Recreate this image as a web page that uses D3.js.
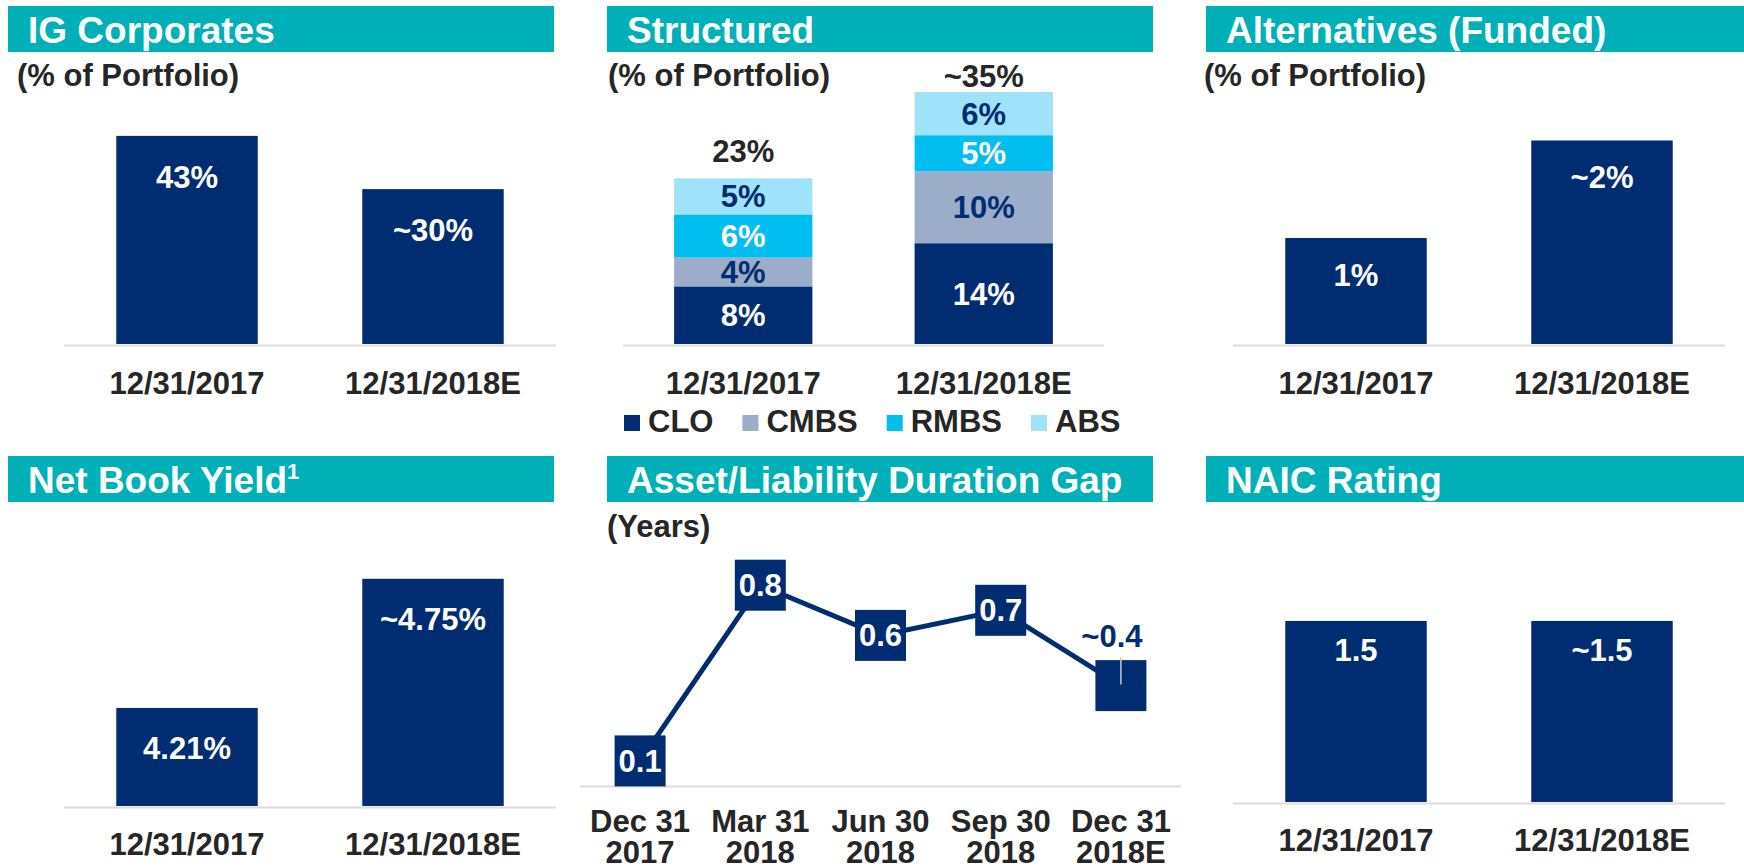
<!DOCTYPE html>
<html>
<head>
<meta charset="utf-8">
<script src="https://cdn.jsdelivr.net/npm/d3@7"></script>
<style>
  body { margin: 0; background: #fff; }
  text { font-family: Arial, "Liberation Sans", sans-serif; font-weight: bold; }
  .title { fill: #fff; font-size: 37px; }
  .sub { fill: #262626; font-size: 31px; }
  .xlab { fill: #262626; font-size: 31px; text-anchor: middle; }
  .val { font-size: 31px; text-anchor: middle; }
</style>
</head>
<body>
<script>
// data
var dates = ["12/31/2017", "12/31/2018E"];

var igCorpValues = [43, 32];
var igCorpLabels = ["43%", "~30%"];

var structSeries = ["CLO", "CMBS", "RMBS", "ABS"];
var clo = [8, 14];
var cmbs = [4, 10];
var rmbs = [6, 5];
var abs = [5, 6];
var structTotals = ["23%", "~35%"];

var altValues = [1, 1.92];
var altLabels = ["1%", "~2%"];

var yieldValues = [4.21, 4.75];
var yieldLabels = ["4.21%", "~4.75%"];

var gapDates = [["Dec 31", "2017"], ["Mar 31", "2018"], ["Jun 30", "2018"], ["Sep 30", "2018"], ["Dec 31", "2018E"]];
var gapValues = [0.1, 0.8, 0.6, 0.7, 0.4];
var gapLabels = ["0.1", "0.8", "0.6", "0.7", "~0.4"];

var naicValues = [1.5, 1.5];
var naicLabels = ["1.5", "~1.5"];

var TEAL = "#00B0B9", NAVY = "#002D72", GRID = "#DCDCDC";
var structColors = ["#002D72", "#9BADC8", "#00BEF0", "#9EE3FA"];
var structText = ["#fff", "#002D72", "#fff", "#002D72"];

var svg = d3.select("body").append("svg").attr("width", 1744).attr("height", 868);

function header(x0, x1, y0, title, sup) {
  svg.append("rect").attr("x", x0).attr("y", y0).attr("width", x1 - x0).attr("height", 46).attr("fill", TEAL);
  var t = svg.append("text").attr("class", "title").attr("x", x0 + 20).attr("y", y0 + 37).text(title);
  if (sup) t.append("tspan").attr("font-size", 22).attr("dy", -14).text(sup);
}

function subtitle(x, y, s) {
  svg.append("text").attr("class", "sub").attr("x", x).attr("y", y).text(s);
}

function bandScale(cats, x0, x1) {
  return d3.scaleBand().domain(cats).range([x0, x1]).paddingInner(0.425).paddingOuter(0.2125);
}

function baseline(x0, x1, y) {
  svg.append("line").attr("x1", x0).attr("x2", x1).attr("y1", y + 1.5).attr("y2", y + 1.5)
    .attr("stroke", GRID).attr("stroke-width", 2);
}

function barPanel(o) {
  var x = bandScale(dates, o.x0, o.x1);
  var y = d3.scaleLinear().domain(o.domain).range([o.base, o.base - o.h]);
  var g = svg.append("g");
  g.selectAll("rect").data(o.values).enter().append("rect")
    .attr("x", function(d, i) { return x(dates[i]); })
    .attr("y", function(d) { return y(d); })
    .attr("width", x.bandwidth())
    .attr("height", function(d) { return o.base - y(d); })
    .attr("fill", NAVY);
  g.selectAll("text.val").data(o.values).enter().append("text").attr("class", "val")
    .attr("x", function(d, i) { return x(dates[i]) + x.bandwidth() / 2; })
    .attr("y", function(d) { return y(d) + o.labOff; })
    .attr("fill", "#fff")
    .text(function(d, i) { return o.labels[i]; });
  baseline(o.x0, o.x1, o.base);
  g.selectAll("text.xlab").data(dates).enter().append("text").attr("class", "xlab")
    .attr("x", function(d) { return x(d) + x.bandwidth() / 2; })
    .attr("y", o.xLabY).text(function(d) { return d; });
}

// IG Corporates
header(8, 554, 6, "IG Corporates");
subtitle(17, 86, "(% of Portfolio)");
barPanel({ x0: 64, x1: 556, base: 344, domain: [0, 50], h: 242, values: igCorpValues, labels: igCorpLabels, labOff: 52, xLabY: 394 });

// Structured (stacked)
header(607, 1153, 6, "Structured");
subtitle(608, 86, "(% of Portfolio)");
(function() {
  var rows = dates.map(function(d, i) {
    return { date: d, CLO: clo[i], CMBS: cmbs[i], RMBS: rmbs[i], ABS: abs[i] };
  });
  var stack = d3.stack().keys(structSeries)(rows);
  var x = bandScale(dates, 623, 1104);
  var y = d3.scaleLinear().domain([0, 40]).range([344, 344 - 288]);
  var layers = svg.selectAll("g.layer").data(stack).enter().append("g").attr("class", "layer");
  layers.selectAll("rect").data(function(s) { return s; }).enter().append("rect")
    .attr("x", function(d) { return x(d.data.date); })
    .attr("y", function(d) { return y(d[1]); })
    .attr("width", x.bandwidth())
    .attr("height", function(d) { return y(d[0]) - y(d[1]); })
    .attr("fill", function() { return structColors[d3.select(this.parentNode).datum().index]; });
  layers.selectAll("text").data(function(s) { return s.map(function(d) { return { d: d, k: s.index }; }); })
    .enter().append("text").attr("class", "val")
    .attr("x", function(e) { return x(e.d.data.date) + x.bandwidth() / 2; })
    .attr("y", function(e) { return (y(e.d[0]) + y(e.d[1])) / 2 + 11; })
    .attr("fill", function(e) { return structText[e.k]; })
    .text(function(e) { return (e.d[1] - e.d[0]) + "%"; });
  var top = stack[stack.length - 1];
  svg.selectAll("text.tot").data(top).enter().append("text").attr("class", "val tot")
    .attr("x", function(d) { return x(d.data.date) + x.bandwidth() / 2; })
    .attr("y", function(d, i) { return y(d[1]) - (i === 0 ? 16 : 5); })
    .attr("fill", "#262626")
    .text(function(d, i) { return structTotals[i]; });
  baseline(623, 1104, 344);
  svg.selectAll("text.sx").data(dates).enter().append("text").attr("class", "xlab sx")
    .attr("x", function(d) { return x(d) + x.bandwidth() / 2; })
    .attr("y", 394).text(function(d) { return d; });
  // legend
  var lx = 624;
  structSeries.forEach(function(s, i) {
    svg.append("rect").attr("x", lx).attr("y", 415).attr("width", 16).attr("height", 16).attr("fill", structColors[i]);
    var t = svg.append("text").attr("class", "sub").attr("x", lx + 24).attr("y", 432).text(s);
    lx += 24 + t.node().getComputedTextLength() + 29;
  });
})();

// Alternatives
header(1206, 1744, 6, "Alternatives (Funded)");
subtitle(1204, 86, "(% of Portfolio)");
barPanel({ x0: 1233, x1: 1725, base: 344, domain: [0, 2.5], h: 265, values: altValues, labels: altLabels, labOff: 48, xLabY: 394 });

// Net Book Yield
header(8, 554, 456, "Net Book Yield", "1");
barPanel({ x0: 64, x1: 556, base: 806, domain: [3.8, 5], h: 287, values: yieldValues, labels: yieldLabels, labOff: 51, xLabY: 855 });

// Asset/Liability Duration Gap
header(607, 1153, 456, "Asset/Liability Duration Gap");
subtitle(607, 537, "(Years)");
(function() {
  var x = d3.scalePoint().domain(d3.range(gapValues.length)).range([580, 1181]).padding(0.5);
  var y = d3.scaleLinear().domain([0, 1]).range([786, 786 - 251]);
  baseline(580, 1181, 785);
  var line = d3.line().x(function(d, i) { return x(i); }).y(function(d) { return y(d); });
  svg.append("path").datum(gapValues).attr("d", line).attr("fill", "none")
    .attr("stroke", NAVY).attr("stroke-width", 5);
  var s = 51;
  svg.selectAll("rect.box").data(gapValues).enter().append("rect").attr("class", "box")
    .attr("x", function(d, i) { return x(i) - s / 2; })
    .attr("y", function(d) { return y(d) - s / 2; })
    .attr("width", s).attr("height", s).attr("fill", NAVY);
  var last = gapValues.length - 1;
  svg.selectAll("text.gv").data(gapValues).enter().append("text").attr("class", "val gv")
    .attr("x", function(d, i) { return i === last ? x(i) - 9 : x(i); })
    .attr("y", function(d, i) { return i === last ? y(d) - 39 : y(d) + 11; })
    .attr("fill", function(d, i) { return i === last ? NAVY : "#fff"; })
    .text(function(d, i) { return gapLabels[i]; });
  svg.append("line").attr("x1", x(last)).attr("x2", x(last))
    .attr("y1", y(gapValues[last]) - 28).attr("y2", y(gapValues[last]) - 1)
    .attr("stroke", "#C8C8C8").attr("stroke-width", 1.5);
  var xl = svg.selectAll("text.gx").data(gapDates).enter().append("text").attr("class", "xlab gx")
    .attr("x", function(d, i) { return x(i); }).attr("y", 832);
  xl.append("tspan").text(function(d) { return d[0]; });
  xl.append("tspan").attr("x", function(d, i) { return x(i); }).attr("dy", 31).text(function(d) { return d[1]; });
})();

// NAIC Rating
header(1206, 1744, 456, "NAIC Rating");
barPanel({ x0: 1233, x1: 1725, base: 802, domain: [0, 2], h: 241.4, values: naicValues, labels: naicLabels, labOff: 40, xLabY: 851 });
</script>
</body>
</html>
